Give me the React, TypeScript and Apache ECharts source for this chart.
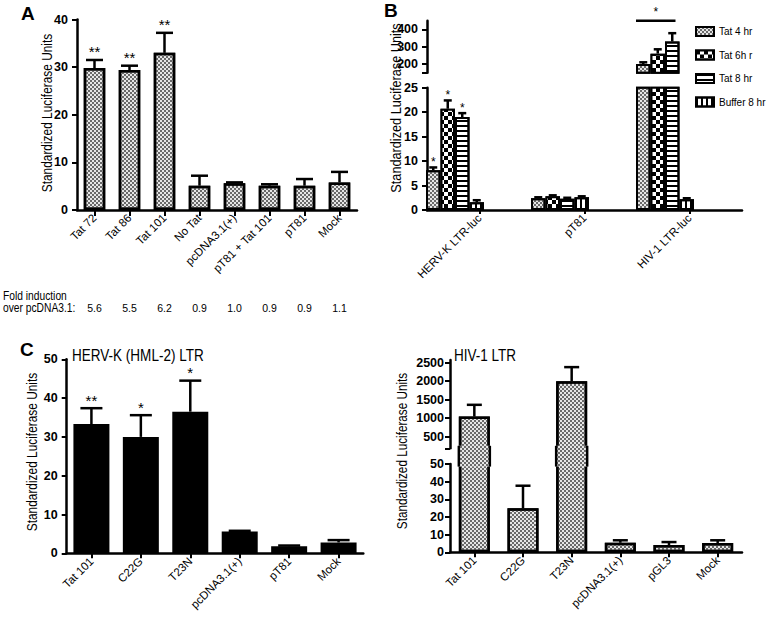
import React, { useEffect, useRef } from "react";
import * as echarts from "echarts";

// ---------- DATA ----------
const catsA = ["Tat 72", "Tat 86", "Tat 101", "No Tat", "pcDNA3.1(+)", "pT81 + Tat 101", "pT81", "Mock"];
const valsA = [29.8, 29.4, 33.0, 5.1, 5.6, 5.1, 5.1, 5.8];
const errA = [31.5, 30.3, 37.2, 7.2, 5.8, 5.4, 6.5, 8.0];
const starsA = ["**", "**", "**", "", "", "", "", ""];
const foldA = ["5.6", "5.5", "6.2", "0.9", "1.0", "0.9", "0.9", "1.1"];

const catsB = ["HERV-K LTR-luc", "pT81", "HIV-1 LTR-luc"];
const namesB = ["Tat 4 hr", "Tat 6h r", "Tat 8 hr", "Buffer 8 hr"];
const tat4 = [8.1, 2.4, 200];
const tat4Err = [8.7, 2.6, 210];
const tat6 = [20.7, 2.8, 260];
const tat6Err = [22.4, 3.0, 285];
const tat8 = [19.0, 2.3, 330];
const tat8Err = [19.8, 2.5, 378];
const buf8 = [1.6, 2.6, 2.2];
const buf8Err = [2.0, 2.8, 2.4];
const starsB4 = ["*", "", ""];
const starsB6 = ["*", "", ""];
const starsB8 = ["*", "", ""];
const starsBuf = ["", "", ""];
const sigB = { category: 2, level: 450, label: "*" };

const catsCL = ["Tat 101", "C22G", "T23N", "pcDNA3.1(+)", "pT81", "Mock"];
const valsCL = [33.3, 30.0, 36.5, 5.6, 1.8, 2.8];
const errCL = [37.4, 35.6, 44.5, 5.8, 2.0, 3.4];
const starsCL = ["**", "*", "*", "", "", ""];

const catsCR = ["Tat 101", "C22G", "T23N", "pcDNA3.1(+)", "pGL3", "Mock"];
const valsCR = [1045, 24.9, 2000, 5.4, 4.1, 5.2];
const errCR = [1362, 37.7, 2378, 6.8, 5.8, 6.8];
const starsCR = ["", "", "", "", "", ""];

const ticksBUpper = [200, 300, 400];
const ticksCRUpper = [500, 1000, 1500, 2000, 2500];

// ---------- STYLE / LAYOUT ----------
const FONT = "'Liberation Sans', Arial, Helvetica, sans-serif";
const NX = 0.82; // horizontal squeeze to imitate a narrow face
const LW = 2.5;
const BW_B = 14.5;
const DUMMY_W = 49;
const GROUP_W = BW_B * 4 + DUMMY_W;
const BW_CR = 31;
const B_UP_MIN = 150;
const B_UP_MAX = 450;
const B_LOW_MAX = 25;
const CR_UP_MIN = 190;
const CR_UP_MAX = 2570;
const CR_LOW_MAX = 50;

const GRIDS = [
  { left: 77, top: 19.5, width: 280, height: 190.5 },
  { left: 427, top: 87.7, width: 315, height: 122.3 },
  { left: 427, top: 20.7, width: 315, height: 52 },
  { left: 66.7, top: 359.3, width: 296.6, height: 194 },
  { left: 450, top: 360, width: 292, height: 88.3 },
  { left: 450, top: 464, width: 292, height: 88.3 },
  // bridge strip between the two C-right segments
  { left: 450, top: 445.8, width: 292, height: 20.8 },
];

const stippleDecal = {
  symbol: "rect",
  symbolSize: 1,
  dashArrayX: [[1.5, 1.5], [0, 1.5, 1.5, 0]],
  dashArrayY: [1.5, 0],
  color: "#6a6a6a",
};
const stipple = { color: "#e6e6e6", borderColor: "#000", borderWidth: 2.5, decal: stippleDecal };
const checker = {
  color: "#000",
  borderColor: "#000",
  borderWidth: 2,
  decal: {
    symbol: "rect",
    symbolSize: 1,
    dashArrayX: [[3.5, 3.5], [0, 3.5, 3.5, 0]],
    dashArrayY: [3.5, 0],
    color: "#fff",
  },
};
const hStripe = {
  color: "#fff",
  borderColor: "#000",
  borderWidth: 2,
  decal: { symbol: "rect", symbolSize: 1, dashArrayX: [1, 0], dashArrayY: [1.6, 2.4], color: "#000" },
};
const vStripe = {
  color: "#fff",
  borderColor: "#000",
  borderWidth: 2,
  decal: { symbol: "rect", symbolSize: 1, dashArrayX: [1.6, 2.4], dashArrayY: [1, 0], color: "#000" },
};
const stippleB = { ...stipple, borderWidth: 2 };
const patternsB = [stippleB, checker, hStripe, vStripe];

function catAxis(gridIndex: number, data: string[], show = true, tickLen = 5) {
  return {
    type: "category",
    gridIndex,
    data,
    show,
    boundaryGap: true,
    axisLine: { show: true, lineStyle: { color: "#000", width: LW } },
    axisTick: { show: true, alignWithLabel: true, length: tickLen, lineStyle: { color: "#000", width: 2 } },
    axisLabel: { interval: 0, rotate: 45, margin: 6, color: "#000", fontFamily: FONT, fontSize: 11.5 },
    splitLine: { show: false },
  };
}

function valAxis(
  gridIndex: number,
  min: number,
  max: number,
  interval: number | null,
  labelVals?: number[],
  tickVals?: number[],
  margin = 9
) {
  const ax: any = {
    type: "value",
    gridIndex,
    min,
    max,
    axisLine: { show: true, lineStyle: { color: "#000", width: LW } },
    axisTick: { show: true, inside: false, length: 5, lineStyle: { color: "#000", width: 2 } },
    axisLabel: {
      color: "#000",
      fontFamily: FONT,
      fontSize: 12.5,
      fontWeight: "bold",
      margin,
      formatter: (v: number) => String(v),
    },
    splitLine: { show: false },
  };
  if (interval != null) ax.interval = interval;
  if (labelVals) ax.axisLabel.customValues = labelVals;
  if (tickVals) ax.axisTick.customValues = tickVals;
  return ax;
}

function errSeries(
  xi: number,
  yi: number,
  vals: number[],
  errs: number[],
  stars: string[],
  o: { offset: number; cap: number; gap: number; font: number; min: number; max: number }
) {
  const data: number[][] = [];
  vals.forEach((v, i) => {
    if (v >= o.min && errs[i] <= o.max) data.push([i, v, errs[i]]);
  });
  return {
    type: "custom",
    xAxisIndex: xi,
    yAxisIndex: yi,
    z: 5,
    silent: true,
    data,
    encode: { x: 0, y: [1, 2] },
    renderItem: (params: any, api: any) => {
      const i = api.value(0);
      const p0 = api.coord([i, api.value(1)]);
      const p1 = api.coord([i, api.value(2)]);
      const x = p0[0] + o.offset;
      const st = { stroke: "#000", lineWidth: LW };
      const children: any[] = [
        { type: "line", shape: { x1: x, y1: p0[1], x2: x, y2: p1[1] }, style: st },
        { type: "line", shape: { x1: x - o.cap, y1: p1[1], x2: x + o.cap, y2: p1[1] }, style: st },
      ];
      if (stars[i]) {
        children.push({
          type: "text",
          x,
          y: p1[1] - o.gap,
          style: { text: stars[i], align: "center", verticalAlign: "middle", fontSize: o.font, fontFamily: FONT, fill: "#000" },
        });
      }
      return { type: "group", children };
    },
  };
}

function buildOption() {
  const foldAxis = {
    type: "category",
    gridIndex: 0,
    data: foldA,
    position: "bottom",
    offset: 84,
    axisLine: { show: false },
    axisTick: { show: false },
    axisLabel: { interval: 0, color: "#000", fontFamily: FONT, fontSize: 10.5, margin: 8 },
  };

  const xAxis = [
    catAxis(0, catsA, true, 6),
    foldAxis,
    catAxis(1, catsB, true, 4),
    catAxis(2, catsB, false),
    catAxis(3, catsCL, true, 5),
    catAxis(4, catsCR, false),
    catAxis(5, catsCR, true, 5),
    catAxis(6, catsCR, false),
  ];
  const yAxis = [
    valAxis(0, 0, 40, 10),
    valAxis(1, 0, B_LOW_MAX, 5),
    valAxis(2, B_UP_MIN, B_UP_MAX, null, ticksBUpper, [B_UP_MIN, ...ticksBUpper]),
    valAxis(3, 0, 50, 10),
    valAxis(4, CR_UP_MIN, CR_UP_MAX, null, ticksCRUpper, [CR_UP_MIN, ...ticksCRUpper], 6),
    valAxis(5, 0, CR_LOW_MAX, 10, undefined, undefined, 6),
    { type: "value", gridIndex: 6, min: 0, max: 1, show: false },
  ];

  const series: any[] = [];
  // Panel A
  series.push({ type: "bar", xAxisIndex: 0, yAxisIndex: 0, data: valsA, barWidth: 21.5, itemStyle: stipple, z: 2 });
  series.push(errSeries(0, 0, valsA, errA, starsA, { offset: 0, cap: 8.5, gap: 8, font: 15, min: 0, max: 40 }));

  // Panel B (broken axis: lower + upper grid)
  const bVals = [tat4, tat6, tat8, buf8];
  const bErrs = [tat4Err, tat6Err, tat8Err, buf8Err];
  const bStars = [starsB4, starsB6, starsB8, starsBuf];
  [0, 1].forEach((part) => {
    const xi = part === 0 ? 2 : 3;
    const yi = part === 0 ? 1 : 2;
    bVals.forEach((vals, k) => {
      series.push({
        type: "bar",
        name: namesB[k],
        xAxisIndex: xi,
        yAxisIndex: yi,
        data: part === 0 ? vals : vals.map((v) => (v > B_UP_MIN ? v : "-")),
        barWidth: BW_B,
        barGap: "0%",
        clip: true,
        itemStyle: patternsB[k],
        z: 2,
      });
    });
    series.push({
      type: "bar",
      name: "spacer",
      xAxisIndex: xi,
      yAxisIndex: yi,
      data: catsB.map(() => "-"),
      barWidth: DUMMY_W,
      barGap: "0%",
      itemStyle: { color: "transparent" },
    });
    bVals.forEach((vals, k) => {
      const offset = -GROUP_W / 2 + BW_B * (k + 0.5);
      series.push(
        errSeries(xi, yi, vals, bErrs[k], bStars[k], {
          offset,
          cap: 4,
          gap: 5,
          font: 12,
          min: part === 0 ? 0 : B_UP_MIN,
          max: part === 0 ? B_LOW_MAX : B_UP_MAX,
        })
      );
    });
  });
  // significance bracket over the HIV-1 group
  series.push({
    type: "custom",
    xAxisIndex: 3,
    yAxisIndex: 2,
    z: 5,
    silent: true,
    data: [[sigB.category, sigB.level]],
    encode: { x: 0, y: 1 },
    renderItem: (params: any, api: any) => {
      const p = api.coord([api.value(0), api.value(1)]);
      const x1 = p[0] - GROUP_W / 2;
      const x2 = x1 + BW_B * 3 - 4;
      return {
        type: "group",
        children: [
          { type: "line", shape: { x1, y1: p[1], x2, y2: p[1] }, style: { stroke: "#000", lineWidth: 2.5 } },
          {
            type: "text",
            x: (x1 + x2) / 2,
            y: p[1] - 9,
            style: { text: sigB.label, align: "center", verticalAlign: "middle", fontSize: 12, fontFamily: FONT, fill: "#000" },
          },
        ],
      };
    },
  });

  // Panel C left
  series.push({ type: "bar", xAxisIndex: 4, yAxisIndex: 3, data: valsCL, barWidth: 36, itemStyle: { color: "#000" }, z: 2 });
  series.push(errSeries(4, 3, valsCL, errCL, starsCL, { offset: 0, cap: 11, gap: 8, font: 15, min: 0, max: 50 }));

  // Panel C right (broken axis, bars continuous through the break)
  series.push({
    type: "bar",
    xAxisIndex: 5,
    yAxisIndex: 4,
    data: valsCR.map((v) => (v > CR_UP_MIN ? v : "-")),
    barWidth: BW_CR,
    clip: true,
    itemStyle: stipple,
    z: 2,
  });
  series.push({ type: "bar", xAxisIndex: 6, yAxisIndex: 5, data: valsCR, barWidth: BW_CR, clip: true, itemStyle: stipple, z: 2 });
  // bridge fill through the break for bars that exceed the lower segment
  const bridge = valsCR.map((v) => (v > CR_LOW_MAX ? 1 : "-"));
  series.push({
    type: "bar",
    xAxisIndex: 7,
    yAxisIndex: 6,
    data: bridge,
    barWidth: BW_CR,
    z: 4,
    silent: true,
    itemStyle: { color: "#e6e6e6", borderWidth: 0, decal: stippleDecal },
  });
  series.push({
    type: "custom",
    xAxisIndex: 7,
    yAxisIndex: 6,
    z: 5,
    silent: true,
    data: valsCR.map((v, i) => [i, v]).filter((d) => d[1] > CR_LOW_MAX),
    encode: { x: 0 },
    renderItem: (params: any, api: any) => {
      const a = api.coord([api.value(0), 0]);
      const b = api.coord([api.value(0), 1]);
      const half = BW_CR / 2;
      const st = { stroke: "#000", lineWidth: LW };
      return {
        type: "group",
        children: [
          { type: "line", shape: { x1: a[0] - half, y1: a[1], x2: a[0] - half, y2: b[1] }, style: st },
          { type: "line", shape: { x1: a[0] + half, y1: a[1], x2: a[0] + half, y2: b[1] }, style: st },
        ],
      };
    },
  });
  series.push(errSeries(5, 4, valsCR, errCR, starsCR, { offset: 0, cap: 7.5, gap: 8, font: 15, min: CR_UP_MIN, max: CR_UP_MAX }));
  series.push(errSeries(6, 5, valsCR, errCR, starsCR, { offset: 0, cap: 7.5, gap: 8, font: 15, min: 0, max: CR_LOW_MAX }));

  const yTitle = (x: number, y: number, size: number) => ({
    type: "text",
    x,
    y,
    rotation: Math.PI / 2,
    scaleX: NX,
    style: {
      text: "Standardized Luciferase Units",
      align: "center",
      verticalAlign: "middle",
      fontFamily: FONT,
      fontSize: size,
      fill: "#000",
    },
  });
  const letter = (t: string, x: number, y: number) => ({
    type: "text",
    x,
    y,
    style: { text: t, fontFamily: FONT, fontWeight: "bold", fontSize: 19, fill: "#000", align: "left", verticalAlign: "top" },
  });
  const plain = (t: string, x: number, y: number, size: number) => ({
    type: "text",
    x,
    y,
    scaleX: NX,
    style: { text: t, fontFamily: FONT, fontSize: size, fill: "#000", align: "left", verticalAlign: "middle" },
  });

  const graphic = [
    letter("A", 21, 4),
    letter("B", 384, 1),
    letter("C", 20, 340),
    yTitle(47, 113, 14.5),
    yTitle(396, 108, 15.5),
    yTitle(32, 452, 14.5),
    yTitle(402, 451, 14.3),
    plain("Fold induction", 3, 296, 12.5),
    plain("over pcDNA3.1:", 3, 308, 12.5),
    plain("HERV-K (HML-2) LTR", 72, 355, 16.5),
    plain("HIV-1 LTR", 454, 355, 16.5),
  ];

  return {
    animation: false,
    backgroundColor: "#fff",
    grid: GRIDS,
    xAxis,
    yAxis,
    series,
    graphic,
    legend: {
      data: namesB,
      orient: "vertical",
      left: 695,
      top: 26,
      padding: 0,
      itemWidth: 18,
      itemHeight: 9,
      itemGap: 12.5,
      icon: "rect",
      selectedMode: false,
      textStyle: { fontFamily: FONT, fontSize: 10, color: "#000" },
    },
  };
}

export default function App() {
  const ref = useRef<HTMLDivElement>(null);
  useEffect(() => {
    const chart = echarts.init(ref.current!, null, { renderer: "svg" });
    chart.setOption(buildOption() as any);
    return () => chart.dispose();
  }, []);
  return (
    <div ref={ref} style={{ position: "absolute", left: 0, top: 0, width: 768, height: 622, background: "#fff" }} />
  );
}
